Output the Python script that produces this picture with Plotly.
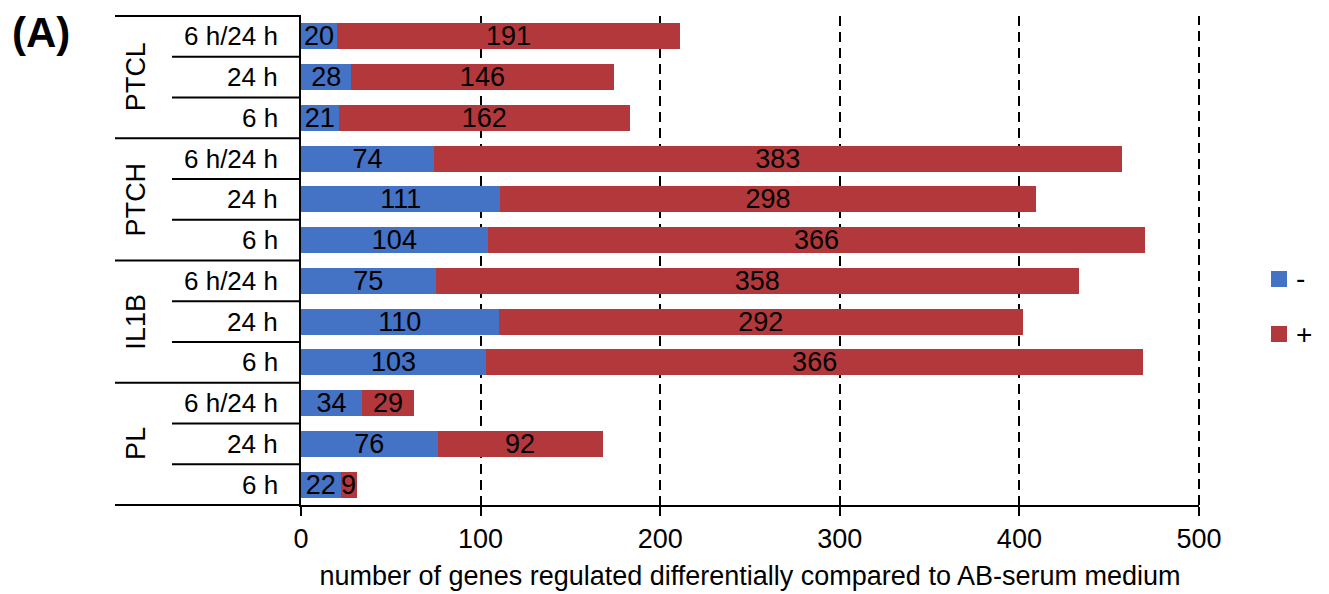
import plotly.graph_objects as go

# Genes regulated relative to AB-serum medium, per stimulus and time point
groups = ["PTCL", "PTCH", "IL1B", "PL"]
times = ["6 h/24 h", "24 h", "6 h"]
down_regulated = [20, 28, 21, 74, 111, 104, 75, 110, 103, 34, 76, 22]
up_regulated = [191, 146, 162, 383, 298, 366, 358, 292, 366, 29, 92, 9]
x_ticks = [0, 100, 200, 300, 400, 500]
x_title = "number of genes regulated differentially compared to AB-serum medium"

BLUE = "#4472C4"
RED = "#B3383B"
FONT = "Liberation Sans, Arial, sans-serif"

series = [("-", down_regulated, BLUE), ("+", up_regulated, RED)]

n_rows = len(groups) * len(times)
rows = list(range(n_rows))
row_labels = [t for g in groups for t in times]

fig = go.Figure()
for name, vals, color in series:
    fig.add_trace(go.Bar(
        y=rows, x=vals, orientation="h", name=name, showlegend=False,
        marker=dict(color=color, line=dict(width=0)),
        text=[str(v) for v in vals], textposition="inside",
        insidetextanchor="middle", textangle=0,
        textfont=dict(family=FONT, size=27, color="black"),
        width=0.64,
    ))

PLOT_W = 898.0   # plot area width in px
PLOT_H = 489.0   # plot area height in px


def px_x(px):
    return (px - 301) / PLOT_W


def px_y(px):
    return (505 - px) / PLOT_H


def row_center(i):
    return 1 - (i + 0.5) / n_rows


def row_edge(k):
    # boundary below row k
    return 1 - (k + 1) / n_rows


shapes = []
annotations = []
line = dict(color="black", width=2)
group_x0 = px_x(115)
sub_x0 = px_x(172)

# dashed grid line at the right end of the value axis (x range ends at the last tick)
shapes.append(dict(type="line", xref="paper", yref="paper", x0=1, x1=1,
                   y0=0, y1=1, line=dict(color="black", width=2, dash="10px,6px")))

shapes.append(dict(type="line", xref="paper", yref="paper", x0=group_x0, x1=0,
                   y0=1, y1=1, line=line))
for gi, g in enumerate(groups):
    first = gi * len(times)
    last = first + len(times) - 1
    shapes.append(dict(type="line", xref="paper", yref="paper", x0=group_x0, x1=0,
                       y0=row_edge(last), y1=row_edge(last), line=line))
    for k in range(first, last):
        shapes.append(dict(type="line", xref="paper", yref="paper", x0=sub_x0, x1=0,
                           y0=row_edge(k), y1=row_edge(k), line=line))
    mid = (row_center(first) + row_center(last)) / 2
    annotations.append(dict(text=g, xref="paper", yref="paper", x=px_x(136),
                            y=mid, textangle=-90, showarrow=False, xanchor="center",
                            yanchor="middle", font=dict(family=FONT, size=27, color="black")))

for i, lab in enumerate(row_labels):
    annotations.append(dict(text=lab, xref="paper", yref="paper", x=px_x(280),
                            y=row_center(i), showarrow=False, xanchor="right",
                            yanchor="middle", font=dict(family=FONT, size=26, color="black")))

# legend: colour swatch plus sign label
for j, (name, _, color) in enumerate(series):
    cy = px_y(279 + 55 * j)
    half_w = 8 / PLOT_W
    half_h = 8 / PLOT_H
    x_c = px_x(1279)
    shapes.append(dict(type="rect", xref="paper", yref="paper",
                       x0=x_c - half_w, x1=x_c + half_w, y0=cy - half_h, y1=cy + half_h,
                       fillcolor=color, line=dict(width=0)))
    annotations.append(dict(text=name, xref="paper", yref="paper", x=px_x(1294),
                            y=cy, showarrow=False, xanchor="left", yanchor="middle",
                            font=dict(family=FONT, size=28, color="black")))

annotations.append(dict(text="<b>(A)</b>", xref="paper", yref="paper",
                        x=px_x(10), y=px_y(32), showarrow=False,
                        xanchor="left", yanchor="middle",
                        font=dict(family=FONT, size=42, color="black")))

fig.update_layout(
    width=1329, height=594,
    margin=dict(l=301, r=130, t=16, b=89, autoexpand=False),
    paper_bgcolor="white", plot_bgcolor="white",
    barmode="stack",
    uniformtext=dict(minsize=27, mode="show"),
    shapes=shapes, annotations=annotations,
    showlegend=False,
    xaxis=dict(range=[0, 500], tickvals=x_ticks, showgrid=True,
               gridcolor="black", griddash="10px,6px", gridwidth=2,
               zeroline=False, showline=True, linecolor="black", linewidth=2,
               ticks="outside", ticklen=9, tickcolor="black", tickwidth=2,
               tickfont=dict(family=FONT, size=27, color="black"),
               title=dict(text=x_title, standoff=13,
                          font=dict(family=FONT, size=27, color="black"))),
    yaxis=dict(range=[n_rows - 0.5, -0.5], showticklabels=False, ticks="",
               showgrid=False, zeroline=False, showline=True,
               linecolor="black", linewidth=2),
)

fig.write_html("out.html")
